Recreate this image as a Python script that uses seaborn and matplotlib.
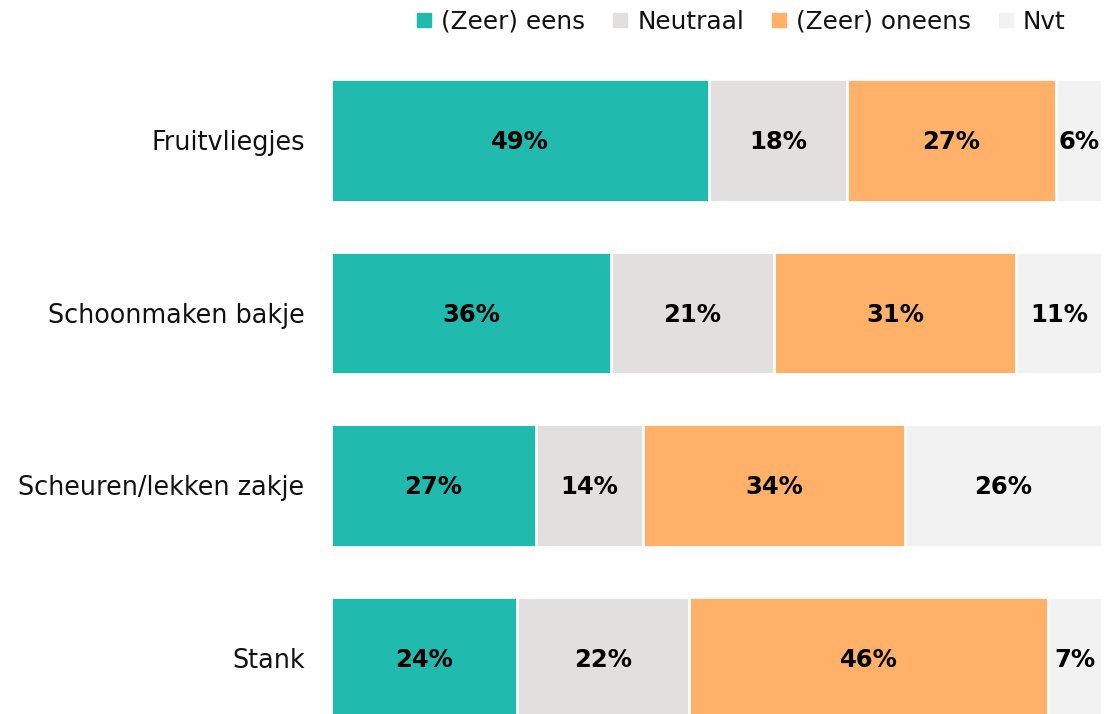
import numpy as np
import pandas as pd
import matplotlib
matplotlib.use('Agg')
import matplotlib.pyplot as plt
import seaborn as sns
from matplotlib.lines import Line2D

categories = ['Fruitvliegjes', 'Schoonmaken bakje', 'Scheuren/lekken zakje', 'Stank']
series = ['(Zeer) eens', 'Neutraal', '(Zeer) oneens', 'Nvt']
eens = [49.0, 36.3, 26.6, 24.1]
neutraal = [17.9, 21.2, 13.9, 22.3]
oneens = [27.1, 31.4, 33.9, 46.6]
nvt = [6.0, 11.1, 25.6, 7.0]
labels = [
    ['49%', '18%', '27%', '6%'],
    ['36%', '21%', '31%', '11%'],
    ['27%', '14%', '34%', '26%'],
    ['24%', '22%', '46%', '7%'],
]
colors = ['#21BAAF', '#E1E0DE', '#FFB169', '#F2F2F2']

sns.set_style('white')
plt.rcParams['font.family'] = ['DejaVu Sans']
plt.rcParams['text.color'] = '#111111'

df = pd.DataFrame({'cat': categories, series[0]: eens, series[1]: neutraal,
                   series[2]: oneens, series[3]: nvt})
vals = df[series].to_numpy()
cum = np.cumsum(vals, axis=1)

fig = plt.figure(figsize=(11.04, 7.14), dpi=100)
ax = fig.add_axes([331 / 1104, 0, 771 / 1104, 1 - 54 / 714])

# draw cumulative bars from the back to the front
for i in range(len(series) - 1, -1, -1):
    tmp = pd.DataFrame({'cat': categories, 'v': cum[:, i]})
    sns.barplot(data=tmp, x='v', y='cat', orient='h', color=colors[i],
                width=0.71, edgecolor='white', linewidth=2, ax=ax, saturation=1)

for r in range(len(categories)):
    for i in range(len(series)):
        start = cum[r, i] - vals[r, i]
        ax.text(start + vals[r, i] / 2, r + 0.01, labels[r][i], ha='center', va='center',
                fontsize=17.5, fontweight='bold', color='black')

ax.set_xlim(0, 100)
ax.set_ylim(3.5 - 30 / 172, -0.5)
ax.set_xlabel('')
ax.set_ylabel('')
ax.set_xticks([])
ax.tick_params(axis='y', length=0, pad=19, labelsize=18.4, labelcolor='#111111')
for s in ax.spines.values():
    s.set_visible(False)

handles = [Line2D([0], [0], marker='s', linestyle='', markersize=10,
                  markerfacecolor=c, markeredgecolor=c) for c in colors]
fig.legend(handles, series, loc='center right', bbox_to_anchor=(1088 / 1104, 1 - 22 / 714),
           ncol=4, frameon=False, fontsize=17.8, handletextpad=0.3, columnspacing=1.0,
           handlelength=0.8, labelcolor='#111111')

fig.savefig('out.png', dpi=100)
